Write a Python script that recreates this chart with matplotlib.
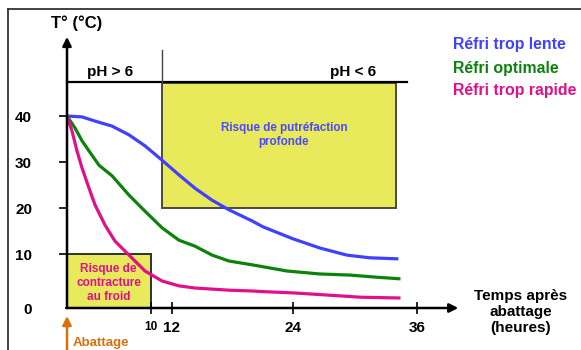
import numpy as np
import matplotlib
matplotlib.use("Agg")
import matplotlib.pyplot as plt
from matplotlib.lines import Line2D
from matplotlib.patches import Rectangle

plt.rcParams['font.family'] = ['Liberation Sans', 'DejaVu Sans']
plt.rcParams['font.weight'] = 'bold'

# ---- data: temperature (°C) vs time after slaughter (hours) ----
t_lente = [0, 1.79, 3.33, 5.36, 7.38, 9.29, 11.05, 12.69, 14.28, 15.97, 17.65, 19.93,
           21.03, 24.0, 26.6, 29.2, 31.4, 34.2]
T_lente = [40, 39.8, 38.9, 37.8, 35.9, 33.5, 30.4, 27.2, 24.3, 21.7, 19.6, 17.2,
           15.9, 13.3, 11.3, 9.8, 9.3, 9.1]

t_optimale = [0, 0.95, 1.79, 2.62, 3.81, 5.36, 7.38, 9.29, 11.05, 12.69, 14.28, 15.97,
              17.65, 19.93, 23.4, 26.6, 29.5, 32.1, 34.4]
T_optimale = [40, 37.4, 34.6, 32.4, 29.3, 27.0, 22.8, 19.3, 15.7, 13.0, 11.7, 9.8,
              8.7, 8.0, 6.85, 6.3, 6.1, 5.7, 5.4]

t_rapide = [0, 0.6, 1.19, 1.79, 2.62, 3.33, 4.52, 5.71, 7.38, 9.29, 11.05, 12.69, 14.28,
            17.65, 19.93, 21.4, 24.0, 27.3, 30.5, 34.4]
T_rapide = [40, 36.7, 32.4, 28.7, 24.3, 20.7, 16.3, 12.8, 9.8, 6.85, 5.0, 4.1, 3.7,
            3.3, 3.15, 3.0, 2.8, 2.4, 2.0, 1.85]

x_ticks = [10, 12, 24, 36]
y_ticks = [0, 10, 20, 30, 40]

# risk zones: (t_start, t_end, T_low, T_high)
zone_putrefaction = (11.05, 34.0, 20, 47.2)
zone_contracture = (0, 10, 0, 10)
ph_limit_T = 47.4
ph_split_t = 11.05

series = [
    ("Réfri trop lente", t_lente, T_lente, "#4040ff"),
    ("Réfri optimale", t_optimale, T_optimale, "#0c820c"),
    ("Réfri trop rapide", t_rapide, T_rapide, "#e0108a"),
]

W, H = 581, 350
fig = plt.figure(figsize=(W / 100, H / 100), dpi=100)
ax = fig.add_axes([0, 0, 1, 1])
ax.patch.set_alpha(0)

# schematic (piecewise-linear) scales
xs_data = [-40, 0, 10, 12, 24, 36, 100]
xs_px = [-40 * 8.4, 0, 84, 105, 226, 350, 350 + 64 * 10.33]
ys_data = [-40, 0, 10, 40, 100]
ys_px = [-40 * 5.4, 0, 54, 192, 192 + 60 * 4.6]


def xf(v):
    return np.interp(v, xs_data, xs_px)


def xi(v):
    return np.interp(v, xs_px, xs_data)


def yf(v):
    return np.interp(v, ys_data, ys_px)


def yi(v):
    return np.interp(v, ys_px, ys_data)


ax.set_xscale('function', functions=(xf, xi))
ax.set_yscale('function', functions=(yf, yi))
ax.set_xlim(float(xi(-67)), float(xi(W - 67)))
ax.set_ylim(float(yi(308 - H)), float(yi(308)))


def P(x, y):
    return (x / W, 1 - y / H)


# zones
x0, x1, y0, y1 = zone_putrefaction
ax.add_patch(Rectangle((x0, y0), x1 - x0, y1 - y0, facecolor="#e9e95c",
                       edgecolor="#4a4a40", lw=1.4, zorder=1))
x0, x1, y0, y1 = zone_contracture
ax.add_patch(Rectangle((x0, y0), x1 - x0, y1 - y0, facecolor="#e9e95c",
                       edgecolor="#303030", lw=1.4, zorder=1))

# pH separators
ax.plot([0, 35], [ph_limit_T, ph_limit_T], color="black", lw=1.6, zorder=3)
ax.plot([ph_split_t, ph_split_t], [ph_limit_T, 54.3], color="#444444", lw=1.0, zorder=3)

# curves
for name, t, T, c in series:
    ax.plot(t, T, color=c, lw=2.3, zorder=4, solid_capstyle='butt',
            solid_joinstyle='round')

# axes with arrows
arrow_kw = dict(arrowstyle='-|>', lw=1.8, color='black', mutation_scale=13,
                shrinkA=0, shrinkB=0)
ax.annotate('', xy=(0, 57.2), xytext=(0, 0), arrowprops=arrow_kw, zorder=5)
ax.annotate('', xy=(40, 0), xytext=(-0.1, 0), arrowprops=arrow_kw, zorder=5)

for s in ax.spines.values():
    s.set_visible(False)
ax.spines['left'].set_position(('data', 0))
ax.spines['bottom'].set_position(('data', 0))

ax.set_xticks(x_ticks)
ax.set_xticklabels([str(v) for v in x_ticks])
ax.set_yticks(y_ticks)
ax.set_yticklabels([str(v) for v in y_ticks])
ax.tick_params(axis='x', direction='inout', length=8, width=1.2, pad=5.5,
               labelsize=11, colors='black')
ax.tick_params(axis='y', direction='out', length=5.8, width=1.2, pad=19.4,
               labelsize=11, colors='black')
ax.xaxis.get_majorticklabels()[0].set_fontsize(8.5)
ax.yaxis.get_major_ticks()[0].tick1line.set_visible(False)
for lab in ax.get_xticklabels() + ax.get_yticklabels():
    lab.set_fontweight('bold')

# figure frame (top and left)
fig.add_artist(Line2D([8 / W, 1], [1 - 9 / H, 1 - 9 / H], color="#333333", lw=1.3))
fig.add_artist(Line2D([8 / W, 8 / W], [0, 1 - 9 / H], color="#333333", lw=1.3))

tk = dict(transform=ax.transAxes, fontweight='bold', zorder=6)
ax.text(*P(77, 23), "T° (°C)", ha='center', va='center', fontsize=12, **tk)
ax.text(*P(110, 72), "pH > 6", ha='center', va='center', fontsize=11, **tk)
ax.text(*P(353, 72), "pH < 6", ha='center', va='center', fontsize=11, **tk)
ax.text(*P(284, 135), "Risque de putréfaction\nprofonde", ha='center', va='center',
        fontsize=8.4, color="#4a4aff", linespacing=1.2, **tk)
ax.text(*P(108.5, 283), "Risque de\ncontracture\nau froid", ha='center', va='center',
        fontsize=8.5, color="#e0108a", linespacing=1.2, **tk)
ax.text(*P(521, 312), "Temps après\nabattage\n(heures)", ha='center', va='center',
        fontsize=11, linespacing=1.15, **tk)

legend_y = [45, 68, 91]
for (name, t, T, c), ly in zip(series, legend_y):
    ax.text(*P(453, ly), name, ha='left', va='center', fontsize=11.4, color=c, **tk)

# slaughter marker
orange = "#d9700c"
ax.annotate('', xy=P(67, 316), xytext=P(67, 352), xycoords='axes fraction',
            textcoords='axes fraction',
            arrowprops=dict(arrowstyle='-|>', lw=1.8, color=orange, mutation_scale=13,
                            shrinkA=0, shrinkB=0))
ax.text(*P(73, 343), "Abattage", ha='left', va='center', fontsize=9.5, color=orange, **tk)

fig.savefig("out.png", dpi=100)
